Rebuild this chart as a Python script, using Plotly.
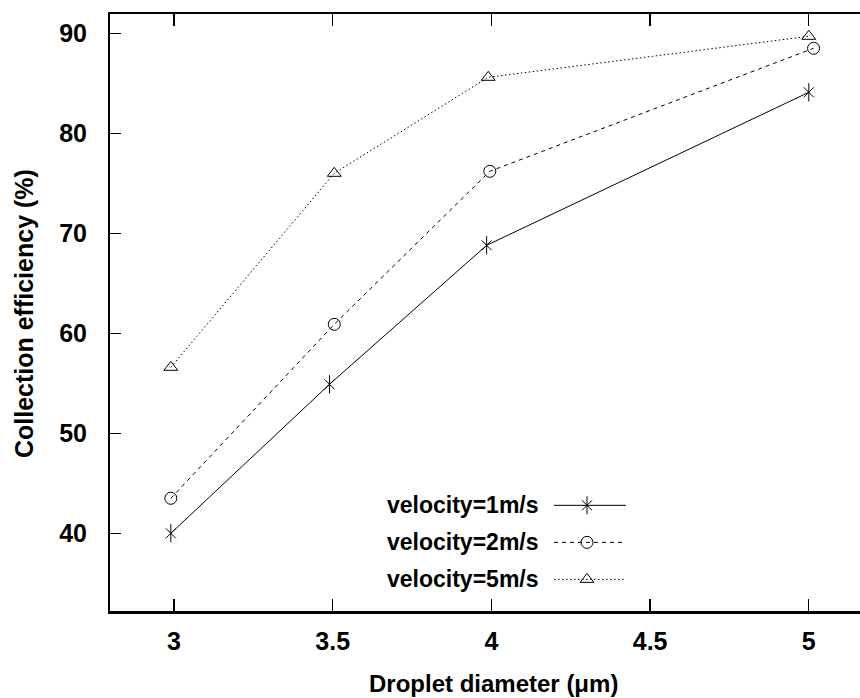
import plotly.graph_objects as go

# ---- data ----
x_v1 = [2.99, 3.49, 3.985, 5.0]
y_v1 = [40.0, 54.9, 68.8, 84.1]
x_v2 = [2.99, 3.505, 3.995, 5.015]
y_v2 = [43.5, 60.9, 76.2, 88.5]
x_v5 = [2.99, 3.505, 3.99, 5.0]
y_v5 = [56.6, 76.0, 85.6, 89.7]

series_names = ["velocity=1m/s", "velocity=2m/s", "velocity=5m/s"]
x_ticks = [3, 3.5, 4, 4.5, 5]
x_tick_labels = ["3", "3.5", "4", "4.5", "5"]
y_ticks = [40, 50, 60, 70, 80, 90]
y_tick_labels = ["40", "50", "60", "70", "80", "90"]

FONT = "Liberation Sans, Arial, sans-serif"
INK = "#000000"

fig = go.Figure()

def add_line(xs, ys, dash, xa="x", ya="y"):
    fig.add_trace(go.Scatter(x=xs, y=ys, mode="lines",
                             line=dict(color=INK, width=1, dash=dash),
                             xaxis=xa, yaxis=ya, showlegend=False, hoverinfo="skip"))

def add_markers(xs, ys, symbols, sizes, xa="x", ya="y"):
    for sym, sz in zip(symbols, sizes):
        fig.add_trace(go.Scatter(x=xs, y=ys, mode="markers",
                                 marker=dict(symbol=sym, size=sz, color=INK,
                                             line=dict(color=INK, width=1)),
                                 xaxis=xa, yaxis=ya, showlegend=False, hoverinfo="skip"))

styles = [
    (x_v1, y_v1, "solid", ["x-thin-open", "line-ns-open"], [10, 13]),
    (x_v2, y_v2, "4px,4px", ["circle-open"], [12]),
    (x_v5, y_v5, "1.5px,2.5px", ["triangle-up-open"], [12]),
]

for xs, ys, dash, syms, szs in styles:
    add_line(xs, ys, dash)
    add_markers(xs, ys, syms, szs)

# ---- manual legend (text left of sample) on an overlay axis in plot fractions ----
leg_rows = [0.177, 0.115, 0.053]
leg_line = [0.592, 0.688]
leg_mark = 0.636
for (xs, ys, dash, syms, szs), name, ry in zip(styles, series_names, leg_rows):
    add_line(leg_line, [ry, ry], dash, xa="x2", ya="y2")
    add_markers([leg_mark], [ry], syms, szs, xa="x2", ya="y2")
    fig.add_annotation(x=0.574, y=ry, xref="x2", yref="y2", text=name,
                       showarrow=False, xanchor="right", yanchor="middle",
                       font=dict(family=FONT, size=23, color=INK, weight="bold"))

# axis titles
fig.add_annotation(x=0.5107, y=-0.121, xref="paper", yref="paper",
                   text="Droplet diameter (\u03bcm)", showarrow=False,
                   xanchor="center", yanchor="middle",
                   font=dict(family=FONT, size=24, color=INK, weight="bold"))
fig.add_annotation(x=-0.1147, y=0.499, xref="paper", yref="paper",
                   text="Collection efficiency (%)", showarrow=False, textangle=-90,
                   xanchor="center", yanchor="middle",
                   font=dict(family=FONT, size=25, color=INK, weight="bold"))

fig.update_layout(
    width=860, height=698,
    margin=dict(l=110, r=0, t=14, b=87),
    paper_bgcolor="white", plot_bgcolor="white",
    showlegend=False,
    xaxis=dict(range=[2.7984, 5.1613], tickmode="array", tickvals=x_ticks,
               ticktext=x_tick_labels, ticks="inside", ticklen=12, tickwidth=1.2,
               tickcolor=INK, showline=True, linecolor=INK, linewidth=2.5,
               mirror="ticks", showgrid=False, zeroline=False,
               ticklabelstandoff=6,
               tickfont=dict(family=FONT, size=25, color=INK, weight="bold")),
    yaxis=dict(range=[32.23, 91.93], tickmode="array", tickvals=y_ticks,
               ticktext=y_tick_labels, ticks="inside", ticklen=11, tickwidth=1.2,
               tickcolor=INK, showline=True, linecolor=INK, linewidth=2,
               mirror=False, showgrid=False, zeroline=False,
               ticklabelstandoff=16,
               tickfont=dict(family=FONT, size=25, color=INK, weight="bold")),
    xaxis2=dict(range=[0, 1], overlaying="x", visible=False, fixedrange=True),
    yaxis2=dict(range=[0, 1], overlaying="y", visible=False, fixedrange=True),
)

fig.write_html("out.html",
               config={"displayModeBar": False, "staticPlot": True},
               post_script="document.body.style.margin='0px';document.body.style.overflow='hidden';")
